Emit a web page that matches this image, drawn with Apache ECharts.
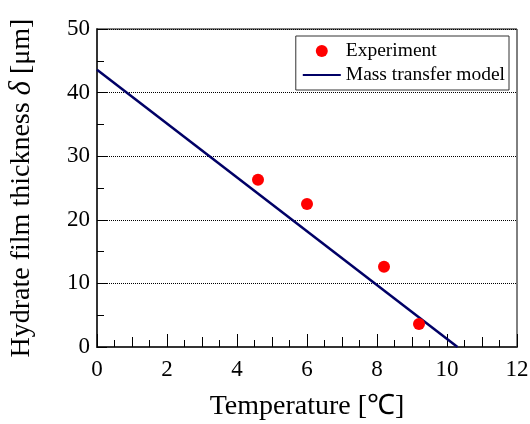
<!DOCTYPE html>
<html>
<head>
<meta charset="utf-8">
<script src="https://cdn.jsdelivr.net/npm/echarts@6/dist/echarts.min.js"></script>
<style>
  html, body { margin: 0; padding: 0; background: #fff; }
  #chart { width: 530px; height: 424px; }
</style>
</head>
<body>
<div id="chart"></div>
<script>
// measured points, temperature in degC / thickness in um
const experimentTemp = [4.6, 6.0, 8.2, 9.2];
const experimentThickness = [26.3, 22.5, 12.6, 3.6];
// model line end points
const modelTemp = [0, 10.3];
const modelThickness = [43.6, 0];

const xTicks = [0, 2, 4, 6, 8, 10, 12];
const yTicks = [0, 10, 20, 30, 40, 50];

const serif = "Liberation Serif, Times New Roman, serif";

const chart = echarts.init(document.getElementById("chart"), null, { renderer: "canvas" });

const baseX = {
  type: "value",
  min: xTicks[0],
  max: xTicks[xTicks.length - 1],
  position: "bottom",
  axisLine: { show: false },
  splitLine: { show: false },
};

chart.setOption({
  animation: false,
  backgroundColor: "#fff",
  textStyle: { fontFamily: serif },
  grid: {
    left: 97, right: 13, top: 29, bottom: 77,
    containLabel: false,
    outerBoundsMode: "none",
    show: true, borderColor: "#000", borderWidth: 1,
  },
  legend: {
    orient: "vertical",
    right: 21,
    top: 36,
    padding: [5, 4, 5, 6],
    itemGap: 4,
    itemWidth: 38,
    itemHeight: 12,
    borderColor: "#333",
    borderWidth: 1,
    backgroundColor: "#fff",
    textStyle: { fontFamily: serif, fontSize: 19.5, color: "#000" },
    data: [
      { name: "Experiment", icon: "circle" },
      { name: "Mass transfer model", itemStyle: { opacity: 0 } },
    ],
  },
  xAxis: [
    Object.assign({}, baseX, {
      interval: 2,
      name: "Temperature [\u2103]",
      nameLocation: "middle",
      nameGap: 46,
      nameTextStyle: { fontFamily: serif, fontSize: 28, color: "#000" },
      axisLine: { show: true, onZero: false, lineStyle: { color: "#333", width: 2 } },
      axisTick: { inside: true, length: 13, lineStyle: { color: "#000", width: 1 } },
      minorTick: { show: true, splitNumber: 4, length: 7, lineStyle: { color: "#000", width: 1 } },
      axisLabel: { fontFamily: serif, fontSize: 23, color: "#000", margin: 11 },
    }),
    Object.assign({}, baseX, {
      interval: 1,
      axisTick: { inside: true, length: 10, lineStyle: { color: "#000", width: 1 } },
      axisLabel: { show: false },
    }),
  ],
  yAxis: {
    type: "value",
    min: yTicks[0],
    max: yTicks[yTicks.length - 1],
    interval: 10,
    name: "{t|Hydrate film thickness }{d|\u03b4}{t| [\u03bcm]}",
    nameLocation: "middle",
    nameGap: 60,
    nameTextStyle: {
      rich: {
        t: { fontFamily: serif, fontSize: 28, color: "#000" },
        d: { fontFamily: serif, fontSize: 31, fontStyle: "italic", color: "#000" },
      },
    },
    axisLine: { show: true, onZero: false, lineStyle: { color: "#333", width: 2 } },
    axisTick: { inside: true, length: 10, lineStyle: { color: "#000", width: 1 } },
    minorTick: { show: true, splitNumber: 2, length: 7, lineStyle: { color: "#000", width: 1 } },
    axisLabel: { fontFamily: serif, fontSize: 23, color: "#000", margin: 7 },
    splitLine: { show: true, lineStyle: { type: "dotted", color: "#000", width: 1 } },
  },
  series: [
    {
      name: "Mass transfer model",
      type: "line",
      symbol: "none",
      color: "#000066",
      lineStyle: { color: "#000066", width: 2.5 },
      data: modelTemp.map((t, i) => [t, modelThickness[i]]),
      z: 3,
    },
    {
      name: "Experiment",
      type: "scatter",
      symbol: "circle",
      symbolSize: 12,
      itemStyle: { color: "#ff0000", opacity: 1 },
      data: experimentTemp.map((t, i) => [t, experimentThickness[i]]),
      z: 4,
    },
  ],
});
</script>
</body>
</html>
